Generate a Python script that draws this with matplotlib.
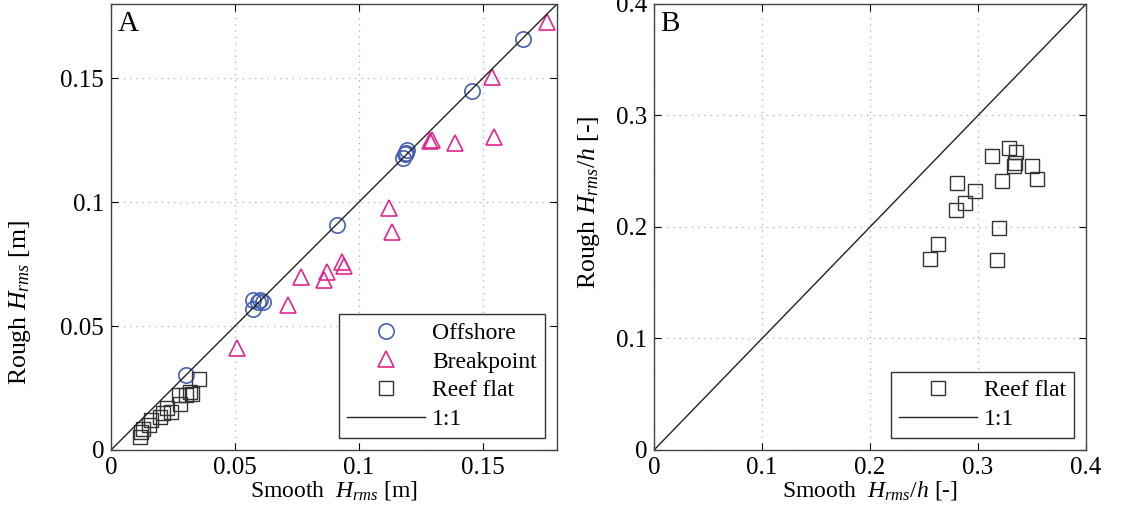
import numpy as np
import matplotlib
matplotlib.use("Agg")
import matplotlib.pyplot as plt

plt.rcParams["font.family"] = ["Liberation Serif", "DejaVu Serif"]
plt.rcParams["mathtext.fontset"] = "custom"
plt.rcParams["mathtext.rm"] = "Liberation Serif"
plt.rcParams["mathtext.it"] = "Liberation Serif:italic"
plt.rcParams["font.size"] = 15

# panel A: wave height, smooth vs rough [m]
offshore_smooth = [0.1664, 0.1456, 0.1186, 0.1195, 0.1180, 0.1192, 0.0914,
                   0.0572, 0.0592, 0.0572, 0.0612, 0.0600, 0.0301]
offshore_rough = [0.1657, 0.1449, 0.1194, 0.1210, 0.1180, 0.1200, 0.0906,
                  0.0604, 0.0597, 0.0570, 0.0597, 0.0605, 0.0302]

break_smooth = [0.1758, 0.1537, 0.1289, 0.1295, 0.1387, 0.1547, 0.1121, 0.1135,
                0.0934, 0.0940, 0.0871, 0.0860, 0.0766, 0.0713, 0.0509]
break_rough = [0.1728, 0.1506, 0.1248, 0.1252, 0.1237, 0.1264, 0.0977, 0.0879,
               0.0758, 0.0741, 0.0718, 0.0687, 0.0700, 0.0584, 0.0413]

reef_smooth = [0.0355, 0.0328, 0.0318, 0.0301, 0.0275, 0.0277, 0.0244, 0.0224,
               0.0210, 0.0197, 0.0163, 0.0154, 0.0130, 0.0123, 0.0117]
reef_rough = [0.0286, 0.0224, 0.0235, 0.0221, 0.0221, 0.0185, 0.0154, 0.0168,
              0.0148, 0.0134, 0.0121, 0.0101, 0.0083, 0.0074, 0.0054]

# panel B: relative wave height Hrms/h on the reef flat
reef_rel_smooth = [0.256, 0.263, 0.280, 0.281, 0.288, 0.297, 0.313, 0.322,
                   0.319, 0.318, 0.329, 0.335, 0.333, 0.334, 0.350, 0.355]
reef_rel_rough = [0.1716, 0.1848, 0.2152, 0.2395, 0.2212, 0.2323, 0.2637, 0.2410,
                  0.1994, 0.1704, 0.2706, 0.2676, 0.2550, 0.2577, 0.2550, 0.2433]

blue = "#4660b4"
magenta = "#e0268f"
dark = "#333333"


def style_axes(ax, lim, ticks, ticklabels):
    ax.set_xlim(0, lim)
    ax.set_ylim(0, lim)
    ax.set_xticks(ticks)
    ax.set_yticks(ticks)
    ax.set_xticklabels(ticklabels)
    ax.set_yticklabels(ticklabels)
    ax.tick_params(direction="in", top=True, right=True, length=5, width=0.8,
                   labelsize=18, pad=5)
    ax.grid(True, linestyle=(0, (1, 4)), color="#aaaaaa", linewidth=0.9)
    for s in ax.spines.values():
        s.set_color("#444444")
        s.set_linewidth(1.0)


def add_legend(ax):
    leg = ax.legend(loc="lower right", fontsize=17, frameon=True, fancybox=False,
                    edgecolor="#333333", framealpha=1, handlelength=3.3,
                    handletextpad=0.3, borderpad=0.35, labelspacing=0.3,
                    borderaxespad=0.5)
    leg.get_frame().set_linewidth(1.0)
    return leg


fig = plt.figure(figsize=(11.41, 5.23), dpi=100)
axA = fig.add_axes([0.0973, 0.1396, 0.3909, 0.8528])
axB = fig.add_axes([0.5732, 0.1396, 0.3786, 0.8528])

# A
axA.plot(offshore_smooth, offshore_rough, "o", ms=11, mfc="none", mec=blue,
         mew=1.2, label="Offshore")
axA.plot(break_smooth, break_rough, "^", ms=12, mfc="none", mec=magenta,
         mew=1.2, label="Breakpoint")
axA.plot(reef_smooth, reef_rough, "s", ms=9.5, mfc="none", mec=dark,
         mew=1.0, label="Reef flat")
axA.plot([0, 0.18], [0, 0.18], "-", color="#222222", lw=1.0, label="1:1")
style_axes(axA, 0.18, [0, 0.05, 0.1, 0.15], ["0", "0.05", "0.1", "0.15"])
axA.set_xlabel(r"Smooth  $H_{rms}$ [m]", fontsize=17, labelpad=0)
axA.set_ylabel(r"Rough $H_{rms}$ [m]", fontsize=18.5)
axA.yaxis.set_label_coords(-0.175, 0.33)
axA.text(0.015, 0.985, "A", transform=axA.transAxes, fontsize=21,
         va="top", ha="left")
add_legend(axA)

# B
axB.plot(reef_rel_smooth, reef_rel_rough, "s", ms=9.5, mfc="none", mec=dark,
         mew=1.0, label="Reef flat")
axB.plot([0, 0.4], [0, 0.4], "-", color="#222222", lw=1.0, label="1:1")
style_axes(axB, 0.4, [0, 0.1, 0.2, 0.3, 0.4], ["0", "0.1", "0.2", "0.3", "0.4"])
axB.set_xlabel(r"Smooth  $H_{rms}/h$ [-]", fontsize=17, labelpad=0)
axB.set_ylabel(r"Rough $H_{rms}/h$ [-]", fontsize=18.5)
axB.yaxis.set_label_coords(-0.12, 0.555)
axB.text(0.015, 0.985, "B", transform=axB.transAxes, fontsize=21,
         va="top", ha="left")
add_legend(axB)

fig.savefig("out.png", dpi=100)
